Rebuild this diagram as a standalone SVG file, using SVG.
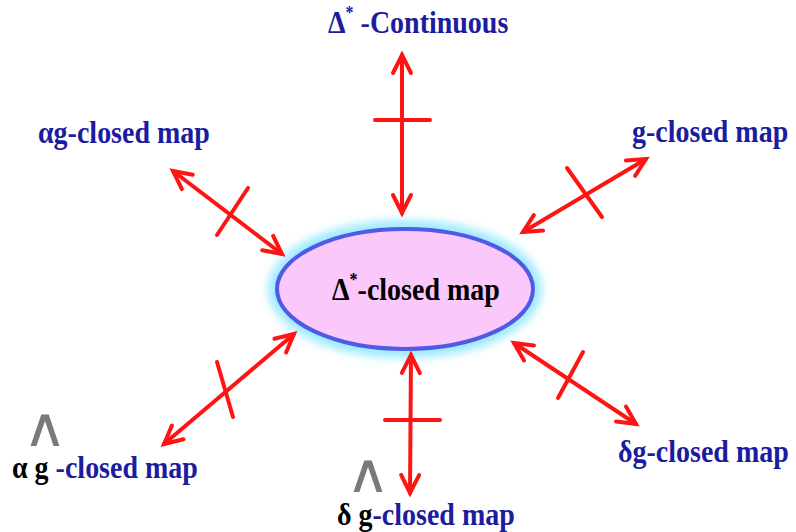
<svg xmlns="http://www.w3.org/2000/svg" width="796" height="532" viewBox="0 0 796 532">
<style>
.lbl{font-family:"Liberation Serif","Times New Roman",serif;font-weight:bold;font-size:28px;fill:#1c1ca0}
.blk{font-family:"Liberation Serif","Times New Roman",serif;font-weight:bold;font-size:28px;fill:#000}
.hat{font-family:"DejaVu Sans",sans-serif;font-size:32px;fill:#7a7a7a;text-anchor:middle}
.arr{stroke:#ff1414;stroke-width:4;fill:none;stroke-linecap:round}
.bar{stroke:#ff1414;stroke-width:4;fill:none;stroke-linecap:round}
</style>
<defs>
<marker id="ah" viewBox="-25 -15 30 30" refX="0" refY="0" markerWidth="30" markerHeight="30" markerUnits="userSpaceOnUse" orient="auto-start-reverse" overflow="visible">
<path d="M-18,-9 L0,0 L-18,9" fill="none" stroke="#ff1414" stroke-width="4" stroke-linecap="round" stroke-linejoin="miter"/>
</marker>
<filter id="glow" x="-20%" y="-30%" width="140%" height="160%">
<feGaussianBlur stdDeviation="4"/>
</filter>
</defs>
<rect width="796" height="532" fill="#ffffff"/>

<g id="center">
<ellipse cx="405" cy="289" rx="130" ry="62" fill="none" stroke="#9eeaff" stroke-width="14" filter="url(#glow)"/>
<ellipse cx="405" cy="289" rx="128" ry="60" fill="#fac8fa" stroke="#4f5ae6" stroke-width="4"/>
<text class="blk" transform="translate(332,300) scale(1,1.15)">Δ<tspan font-size="16" dy="-12">*</tspan><tspan dy="12">-closed map</tspan></text>
</g>

<g id="n-top">
<text class="lbl" transform="translate(328,33) scale(1,1.15)">Δ<tspan font-size="16" dy="-12">*</tspan><tspan dy="12"> -Continuous</tspan></text>
</g>
<g id="n-topleft">
<text class="lbl" transform="translate(38,143) scale(1,1.15)">αg-closed map</text>
</g>
<g id="n-topright">
<text class="lbl" transform="translate(632,142) scale(1,1.15)">g-closed map</text>
</g>
<g id="n-bottomright">
<text class="lbl" transform="translate(618,462) scale(1,1.15)">δg-closed map</text>
</g>
<g id="n-bottomleft">
<text class="hat" transform="translate(45,446) scale(1.9,1.7)">∧</text>
<text class="blk" transform="translate(12,478) scale(1,1.15)">α g <tspan class="lbl">-closed map</tspan></text>
</g>
<g id="n-bottom">
<text class="hat" transform="translate(368,492) scale(1.9,1.7)">∧</text>
<text class="blk" transform="translate(337,525) scale(1,1.15)">δ g<tspan class="lbl">-closed map</tspan></text>
</g>

<g id="connectors">
<line class="arr" x1="402" y1="55" x2="402" y2="213" marker-start="url(#ah)" marker-end="url(#ah)"/>
<line class="bar" x1="375" y1="120" x2="430" y2="120"/>
<line class="arr" x1="173" y1="171" x2="282" y2="254" marker-start="url(#ah)" marker-end="url(#ah)"/>
<line class="bar" x1="248" y1="188" x2="217" y2="235"/>
<line class="arr" x1="523" y1="232" x2="646" y2="159" marker-start="url(#ah)" marker-end="url(#ah)"/>
<line class="bar" x1="567" y1="168" x2="602" y2="217"/>
<line class="arr" x1="294" y1="334" x2="164" y2="444" marker-start="url(#ah)" marker-end="url(#ah)"/>
<line class="bar" x1="217" y1="362" x2="233" y2="417"/>
<line class="arr" x1="514" y1="343" x2="636" y2="424" marker-start="url(#ah)" marker-end="url(#ah)"/>
<line class="bar" x1="583" y1="352" x2="558" y2="398"/>
<line class="arr" x1="411" y1="355" x2="410" y2="493" marker-start="url(#ah)" marker-end="url(#ah)"/>
<line class="bar" x1="385" y1="420" x2="440" y2="420"/>
</g>
</svg>
